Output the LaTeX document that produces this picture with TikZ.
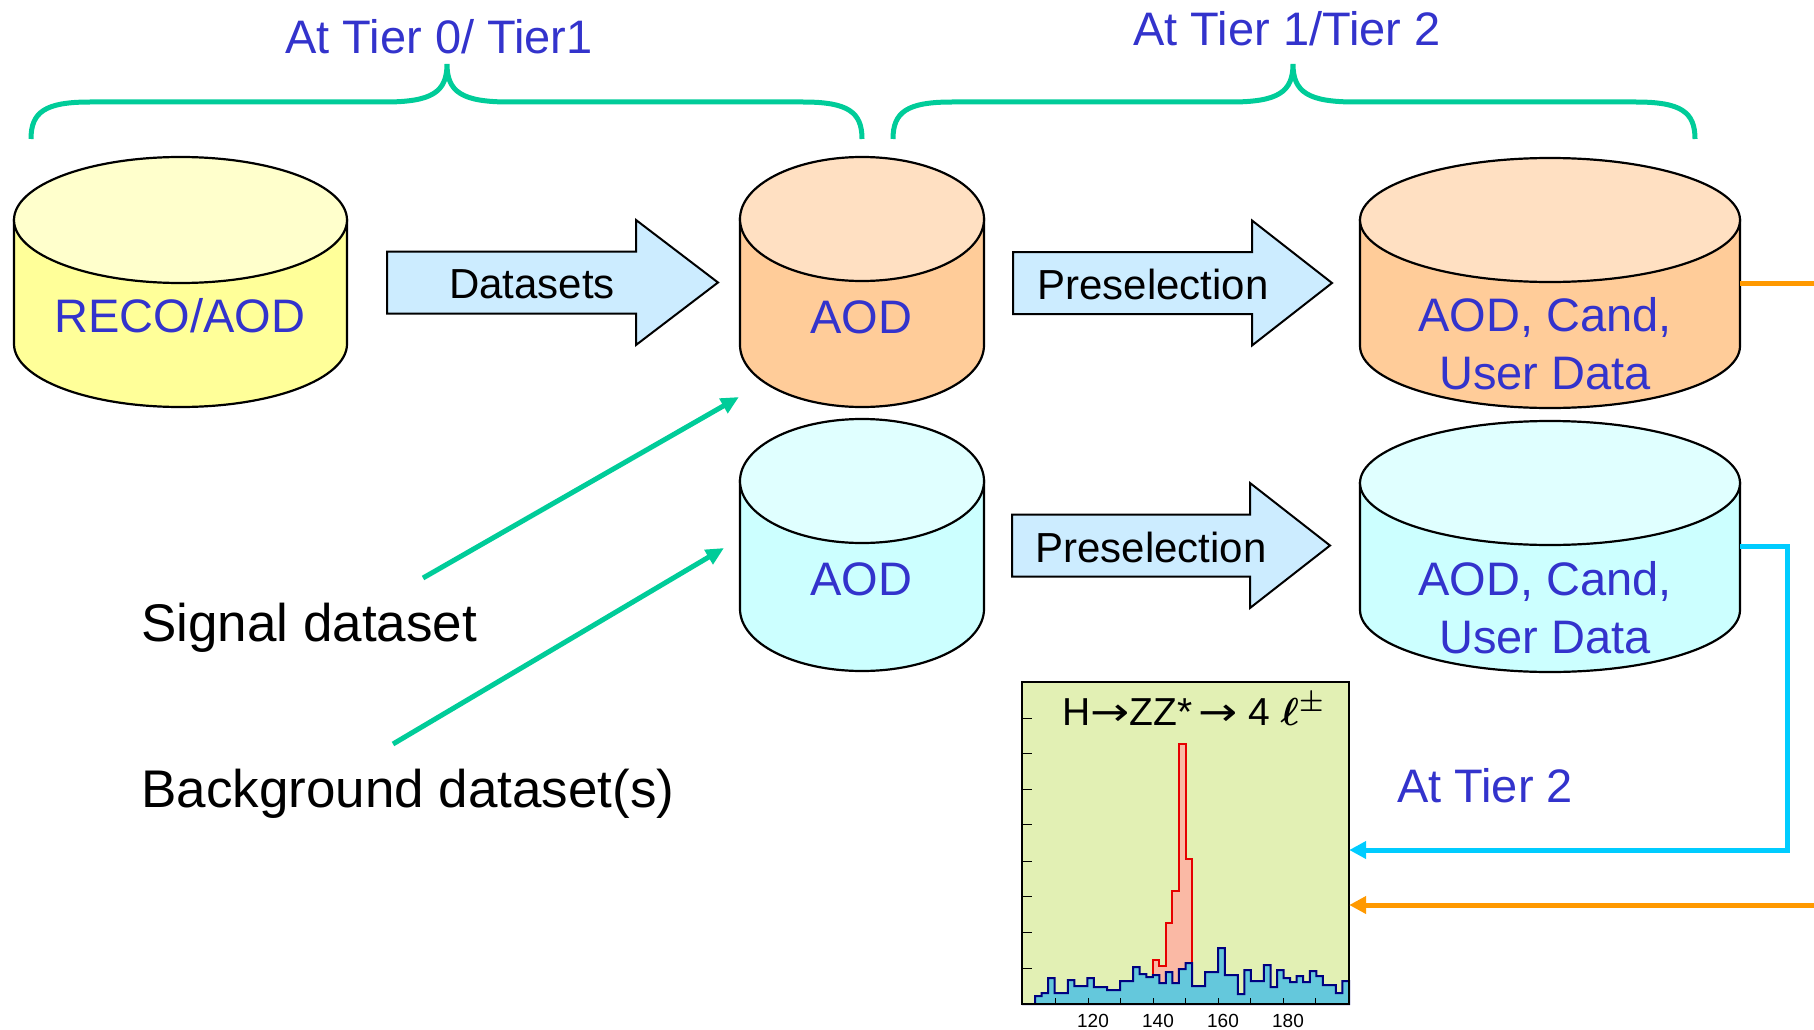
\RequirePackage{fix-cm}
\documentclass[tikz,border=0pt]{standalone}
\usepackage{fontspec}
\setmainfont{Liberation Sans}
\newfontfamily\arrowfont{DejaVu Sans}
\usetikzlibrary{arrows.meta}

\definecolor{tierblue}{RGB}{51,51,204}
\definecolor{tiergreen}{RGB}{0,204,153}
\definecolor{yelbody}{RGB}{255,255,153}
\definecolor{yeltop}{RGB}{255,255,204}
\definecolor{orgbody}{RGB}{255,204,153}
\definecolor{orgtop}{RGB}{255,224,194}
\definecolor{cyanbody}{RGB}{204,255,255}
\definecolor{cyantop}{RGB}{224,255,255}
\definecolor{arrowfill}{RGB}{204,236,255}
\definecolor{histbg}{RGB}{226,240,180}
\definecolor{bgfill}{RGB}{100,200,220}
\definecolor{bgline}{RGB}{0,0,128}
\definecolor{sigfill}{RGB}{250,185,165}
\definecolor{sigline}{RGB}{230,0,0}
\definecolor{flowcyan}{RGB}{0,204,255}
\definecolor{floworange}{RGB}{255,153,0}

\begin{document}
\begin{tikzpicture}[x=1pt, y=1pt,
		tierlbl/.style={text=tierblue, font=\fontsize{47}{56}\selectfont, inner sep=0pt},
		dblbl/.style={text=tierblue, font=\fontsize{47}{58}\selectfont, align=center, inner sep=0pt},
		steplbl/.style={font=\fontsize{42}{50}\selectfont, inner sep=0pt, anchor=base},
		sidelbl/.style={font=\fontsize{53}{62}\selectfont, inner sep=0pt, anchor=base west},
		ticklbl/.style={font=\fontsize{19}{22}\selectfont, inner sep=0pt, anchor=base},
		cyl/.style={draw, line width=2.2pt},
		blockarrow/.style={draw, fill=arrowfill, line width=2pt},
		brace/.style={draw=tiergreen, line width=5pt},
		feed/.style={draw=tiergreen, line width=5pt, -{Triangle[length=18pt,width=16pt]}},
		cyanflow/.style={draw=flowcyan, line width=5pt, -{Triangle[length=17pt,width=17pt]}},
		orangeflow/.style={draw=floworange, line width=5pt},
		bghist/.style={draw=bgline, fill=bgfill, line width=2pt},
		sighist/.style={draw=sigline, fill=sigfill, line width=2pt}]
	\useasboundingbox (0,0) rectangle (1814,-1030);

	% braces over the tiers
	\foreach \xl/\xm/\xr in {31/447/862, 893/1293/1695} {
		\draw[brace] (\xl,-139) .. controls (\xl,-112) and ({\xl+14},-102) .. ({\xl+59},-102)
			-- ({\xm-62},-102) .. controls ({\xm-15},-102) and (\xm,-92) .. (\xm,-64)
			.. controls (\xm,-92) and ({\xm+15},-102) .. ({\xm+62},-102)
			-- ({\xr-59},-102) .. controls ({\xr-14},-102) and (\xr,-112) .. (\xr,-139);
	}
	\node[tierlbl, anchor=base] (tier01) at (439,-54) {At Tier 0/ Tier1};
	\node[tierlbl, anchor=base] (tier12) at (1287,-46) {At Tier 1/Tier 2};

	% data bases
	\foreach \cx/\yt/\yb/\rx/\ry/\body/\topc [count=\k] in {180.5/220/344/166.5/63/yelbody/yeltop, 862/219/345/122/62/orgbody/orgtop, 862/481/609/122/62/cyanbody/cyantop, 1550/220/346/190/62/orgbody/orgtop, 1550/483/610/190/62/cyanbody/cyantop} {
		\filldraw[cyl, fill=\body] ({\cx-\rx},-\yt) -- ({\cx-\rx},-\yb)
			arc[start angle=180, end angle=360, x radius=\rx, y radius=\ry] -- ({\cx+\rx},-\yt) -- cycle;
		\filldraw[cyl, fill=\topc] (\cx,-\yt) ellipse[x radius=\rx, y radius=\ry];
		\coordinate (db\k-e) at ({\cx+\rx},{-(\yt+\yb)/2});
	}
	\node[tierlbl, anchor=base] (reco) at (180,-332) {RECO/AOD};
	\node[tierlbl, anchor=base] (aod1) at (861,-333) {AOD};
	\node[tierlbl, anchor=base] (aod2) at (861,-595) {AOD};
	\node[dblbl] (cand1) at (1545,-344) {AOD, Cand,\\User Data};
	\node[dblbl] (cand2) at (1545,-608) {AOD, Cand,\\User Data};

	% block arrows
	\foreach \xa/\xb/\xc/\ym in {387/636/718/282.5, 1013/1252/1332/283, 1012/1250/1330/545.5} {
		\filldraw[blockarrow] (\xa,{-\ym+31}) -- (\xb,{-\ym+31}) -- (\xb,{-\ym+62.5}) -- (\xc,-\ym)
			-- (\xb,{-\ym-62.5}) -- (\xb,{-\ym-31}) -- (\xa,{-\ym-31}) -- cycle;
	}
	\node[steplbl] (datasets) at (532,-298) {Datasets};
	\node[steplbl] (presel1) at (1153,-299) {Preselection};
	\node[steplbl] (presel2) at (1151,-562) {Preselection};

	% inputs
	\node[sidelbl] (sig) at (141,-641) {Signal dataset};
	\node[sidelbl] (bkg) at (141,-807) {Background dataset(s)};
	\coordinate (sig-from) at (423,-578);
	\coordinate (bkg-from) at (393,-744);
	\coordinate (aod1-in) at (739,-397);
	\coordinate (aod2-in) at (724,-548);
	\draw[feed] (sig-from) -- (aod1-in);
	\draw[feed] (bkg-from) -- (aod2-in);

	% histogram
	\def\bw{6.54}
	\node[fill=histbg, minimum width=327pt, minimum height=322pt, inner sep=0pt] (hist) at (1185.5,-843) {};
	\filldraw[sighist] ({1022+20*\bw},-1004) \foreach \h [count=\i from 20] in {44,38,81,113,260,145} {
		-- ({1022+\i*\bw},{-1004+\h}) -- ({1022+(\i+1)*\bw},{-1004+\h}) } -- ({1022+26*\bw},-1004) -- cycle;
	\filldraw[bghist] (1022,-1004) \foreach \h [count=\i from 0] in {0,0,8,11,26,11,11,24,18,18,26,17,17,14,14,23,23,37,30,27,29,21,32,21,35,41,18,18,32,32,56,29,29,10,34,23,23,39,17,34,26,22,28,22,33,28,19,19,11,23} {
		-- ({1022+\i*\bw},{-1004+\h}) -- ({1022+(\i+1)*\bw},{-1004+\h}) } -- (1349,-1004) -- cycle;
	\foreach \m in {110,120,...,190}
		\draw[line width=1pt] ({1023+(\m-100)*3.25},-1004) -- ++(0,6);
	\foreach \yy in {718,753,789,824,861,896,932,968}
		\draw[line width=1pt] (1022,-\yy) -- ++(10,0);
	\draw[line width=1.5pt] (hist.south west) rectangle (hist.north east);
	\foreach \m in {120,140,160,180}
		\node[ticklbl] (tick\m) at ({1028+(\m-100)*3.25},-1027) {\m};
	\node[font=\fontsize{39}{46}\selectfont, inner sep=0pt, anchor=base] (htitle) at (1193,-725)
		{H{\arrowfont\scalebox{1.2}[1]{→}}ZZ*\,{\arrowfont\scalebox{1.2}[1]{→}} 4\hspace{10pt}{\boldmath$\ell^{\pm}$}};

	% feedback to the histogram
	\coordinate (out-top) at (1814,-283);
	\coordinate (in-bot) at (1814,-905);
	\node[tierlbl, anchor=base] (tier2) at (1485,-802) {At Tier 2};
	\draw[orangeflow] (db4-e) -- (out-top);
	\draw[cyanflow] (db5-e) -- ++(47,0) |- (hist.east |- 0,-850);
	\draw[orangeflow, -{Triangle[length=17pt,width=17pt]}] (in-bot) -- (hist.east |- in-bot);
\end{tikzpicture}
\end{document}
